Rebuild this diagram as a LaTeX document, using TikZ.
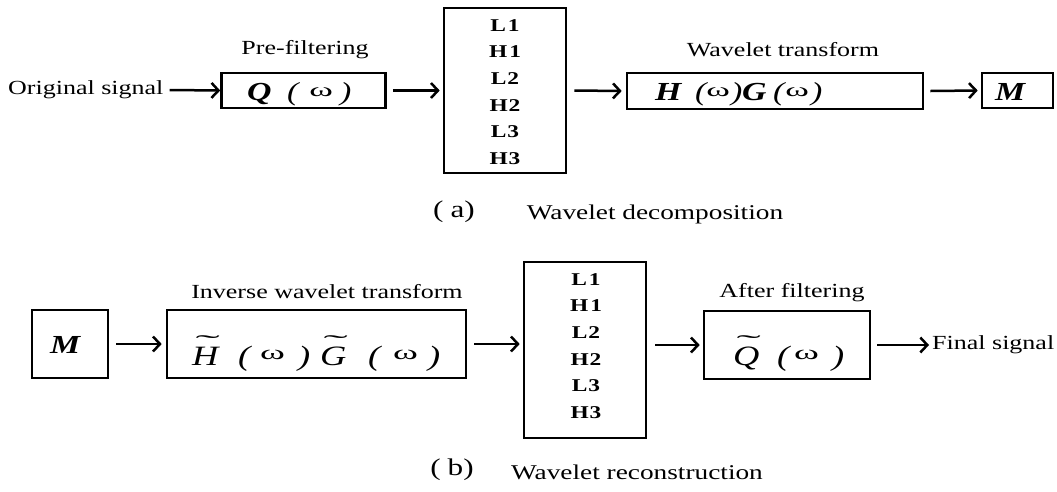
\documentclass[tikz,border=0pt]{standalone}
\usepackage{fontspec}
\setmainfont{Liberation Serif}[FakeStretch=1.3]
\usetikzlibrary{arrows.meta}
\newcommand{\omgs}{\raisebox{4pt}{\scalebox{1.45}[1]{\fontsize{19}{19}\selectfont ω}}}
\newcommand{\omgb}{\raisebox{6pt}{\scalebox{1.45}[1]{\fontsize{20}{20}\selectfont ω}}}
\newcommand{\lpar}{{\itshape (}}
\newcommand{\rpar}{{\itshape )}}
\newcommand{\pc}[2]{\makebox[#1pt][l]{#2}}
\newcommand{\pcc}[2]{\makebox[#1pt][c]{#2}}
\newcommand{\tld}[1]{\ooalign{#1\cr\hidewidth\kern5pt\raisebox{15pt}{\scalebox{2.8}[1.1]{\fontsize{20}{20}\selectfont\char"02DC}}\hidewidth\cr}}
\begin{document}
\begin{tikzpicture}[x=1pt,y=-1pt,
  blk/.style={draw, line width=2.6pt, inner sep=0pt},
  lbl/.style={inner sep=0pt, font=\fontsize{20}{22}\selectfont},
  captxt/.style={inner sep=0pt, font=\fontsize{21}{23}\selectfont},
  fns/.style={inner sep=0pt, anchor=base west, font=\fontsize{26}{28}\selectfont},
  fnb/.style={inner sep=0pt, anchor=base west, font=\fontsize{28}{30}\selectfont},
  lh/.style={inner sep=0pt, align=center, font=\fontsize{18}{26.7}\selectfont\bfseries},
  arr/.style={line width=2.5pt, -{Straight Barb[length=7pt,width=15pt]}}]
\useasboundingbox (0,0) rectangle (1057,491);
% ---------- (a) ----------
\node[lbl, anchor=west] (orig) at (8,90) {Original signal};
\node[blk, minimum width=164pt, minimum height=35pt] (q) at (303.5,90.5) {};
\node[fns] (qtxt) at (247,100) {\pc{40}{\bfseries\itshape Q}\pc{15}{\lpar}\pcc{38}{\omgs}\rpar};
\node[lbl] (pre) at (305,50) {Pre-filtering};
\node[blk, minimum width=122pt, minimum height=165pt] (t1) at (505,90.5) {};
\node[lh] (t1txt) at (505,92) {L\kern2pt 1\\H\kern2pt 1\\L\kern1pt 2\\H\kern1pt 2\\L\kern1pt 3\\H\kern1pt 3};
\node[blk, minimum width=296pt, minimum height=36pt] (hg) at (775,91) {};
\node[fns] (hgtxt) at (655,100) {\pc{40}{\bfseries\itshape H}\pc{10}{\lpar}\pcc{26}{\omgs}\pc{11}{\rpar}\pc{31}{\bfseries\itshape G}\pc{10}{\lpar}\pcc{28}{\omgs}\rpar};
\node[lbl] (wt) at (783,50) {Wavelet transform};
\node[blk, minimum width=71pt, minimum height=35pt] (m1) at (1017.5,90.5) {};
\node[fns] (m1txt) at (995,100) {\bfseries\itshape M};
\draw[arr] ([xshift=6pt]orig.east) -- (q.west);
\draw[arr] ([xshift=6pt]q.east) -- ([xshift=-3pt]t1.west);
\draw[arr] ([xshift=7pt]t1.east) -- ([xshift=-4pt]hg.west);
\draw[arr] ([xshift=6pt]hg.east) -- ([xshift=-3pt]m1.west);
\node[inner sep=0pt, font=\fontsize{24}{26}\selectfont] (capa) at (454,212) {(\hspace{7pt}a)};
\node[captxt] (capat) at (655,214) {Wavelet decomposition};
% ---------- (b) ----------
\node[blk, minimum width=76pt, minimum height=68pt] (m2) at (70,344) {};
\node[fns] (m2txt) at (50,353) {\bfseries\itshape M};
\node[blk, minimum width=299pt, minimum height=68pt] (ihg) at (316.5,344) {};
\node[fnb] (ihgtxt) at (192,365) {\pc{46}{\tld{\itshape H}}\pc{20}{\lpar}\pc{40}{\hspace{2pt}\omgb}\pc{22}{\rpar}\pc{48}{\tld{\itshape G}}\pc{23}{\lpar}\pc{37}{\hspace{2pt}\omgb}\rpar};
\node[lbl] (iwt) at (327,292) {Inverse wavelet transform};
\node[blk, minimum width=122pt, minimum height=176pt] (t2) at (585,350) {};
\node[lh] (t2txt) at (586,346) {L\kern2pt 1\\H\kern2pt 1\\L\kern1pt 2\\H\kern1pt 2\\L\kern1pt 3\\H\kern1pt 3};
\node[blk, minimum width=166pt, minimum height=68pt] (qt) at (787,345) {};
\node[fnb] (qttxt) at (733,365) {\pc{44}{\tld{\itshape Q}}\pc{13}{\lpar}\pc{42}{\hspace{4pt}\omgb}\rpar};
\node[lbl] (af) at (792,293) {After filtering};
\node[lbl, anchor=west] (fin) at (932,345) {Final signal};
\draw[arr] ([xshift=7pt]m2.east) -- ([xshift=-4pt]ihg.west);
\draw[arr] ([xshift=7pt]ihg.east) -- ([xshift=-3pt]t2.west |- ihg.east);
\draw[arr] ([xshift=8pt]t2.east |- qt.west) -- ([xshift=-3pt]qt.west);
\draw[arr] ([xshift=6pt]qt.east |- fin.west) -- ([xshift=-3pt]fin.west);
\node[inner sep=0pt, font=\fontsize{24}{26}\selectfont] (capb) at (452,470) {(\hspace{7pt}b)};
\node[captxt] (capbt) at (637,472) {Wavelet reconstruction};
\end{tikzpicture}
\end{document}
